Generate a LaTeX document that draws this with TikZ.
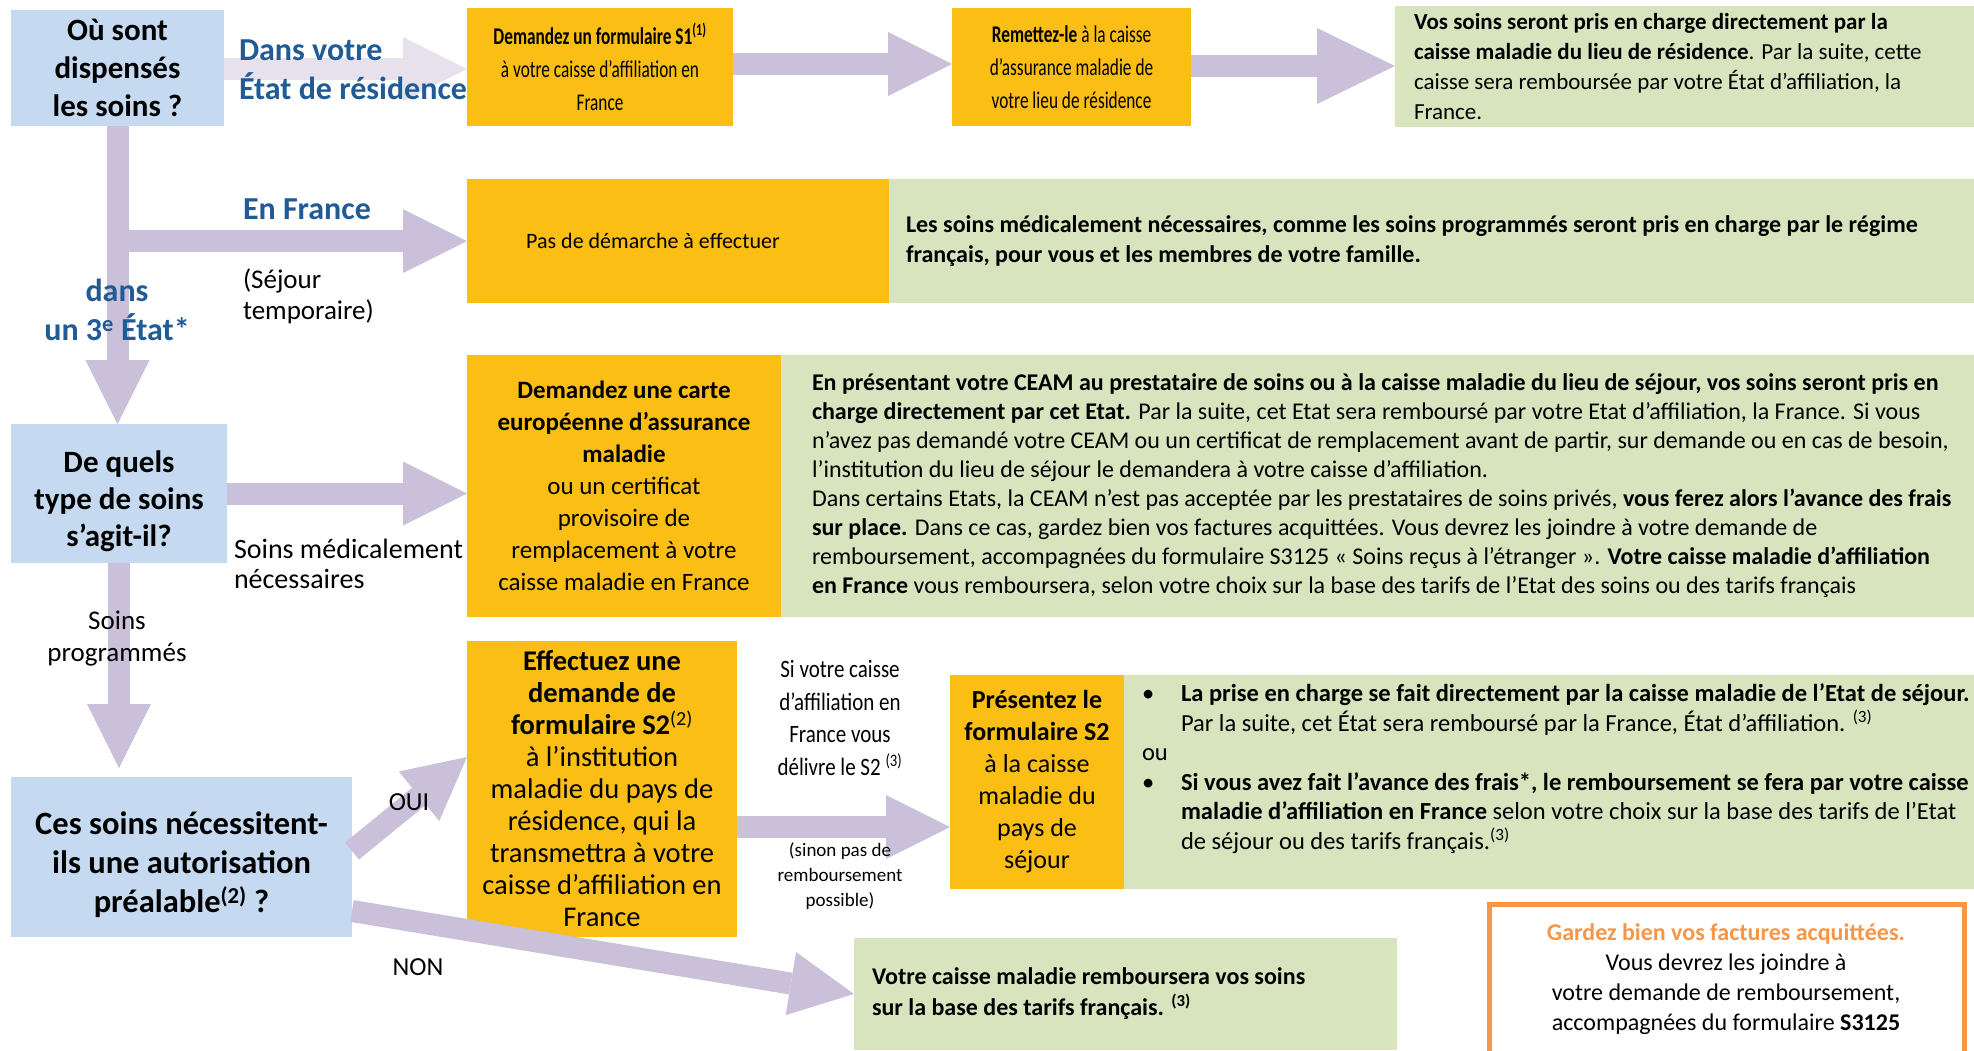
\documentclass[tikz,border=0pt]{standalone}
\usepackage{fontspec}
\setmainfont{Carlito}
\newfontfamily\condA[FakeStretch=0.72]{Carlito}
\newfontfamily\condB[FakeStretch=0.84]{Carlito}
\usetikzlibrary{arrows.meta,calc}
\definecolor{bluebox}{RGB}{197,217,240}
\definecolor{orangebox}{RGB}{250,190,20}
\definecolor{greenbox}{RGB}{215,228,189}
\definecolor{lav}{RGB}{202,192,218}
\definecolor{lavlight}{RGB}{231,224,237}
\definecolor{bluetxt}{RGB}{32,91,150}
\definecolor{orngtxt}{RGB}{247,150,70}
\newcommand{\fsz}[2]{\fontsize{#1}{#2}\selectfont}
\begin{document}
\begin{tikzpicture}[x=1pt,y=-1pt,
  every node/.style={inner sep=0pt,outer sep=0pt},
  boxbase/.style={anchor=north west,align=center},
  bluenode/.style={boxbase,fill=bluebox},
  orangenode/.style={boxbase,fill=orangebox},
  greennode/.style={boxbase,fill=greenbox,align=flush left},
  lbl/.style={align=center},
  blockarrow/.style={draw=lav,line width=22pt,-{Triangle[length=64pt,width=64pt,line width=0pt]}},
  lightarrow/.style={draw=lavlight,line width=22pt,-{Triangle[length=64pt,width=64pt,line width=0pt]}},
]
\useasboundingbox (0,0) rectangle (1974,1050);
\clip (0,0) rectangle (1974,1050);

% ---------- boxes ----------
\node[bluenode,minimum width=213pt,minimum height=116pt,font=\fsz{31}{38}\bfseries] (b1) at (11,10)
  {Où sont\\ dispensés\\ les soins ?};
\node[orangenode,minimum width=266pt,minimum height=118pt,font=\condA\fsz{24}{33}] (o1) at (467,8)
  {\textbf{Demandez un formulaire S1\textsuperscript{(1)}}\\ à  votre caisse d’affiliation en\\ France};
\node[orangenode,minimum width=239pt,minimum height=118pt,font=\condA\fsz{24}{33}] (o2) at (952,8)
  {\textbf{Remettez-le} à la caisse\\ d’assurance maladie de\\ votre lieu de résidence};
\node[greennode,minimum height=121pt,text width=600pt,inner xsep=19pt,font=\fsz{23}{30}] (g1) at (1395,6)
  {\textbf{Vos soins seront pris en charge directement par la}\\ \textbf{caisse maladie du lieu de résidence}. Par la suite, cette\\ caisse sera remboursée par votre État d’affiliation, la\\ France.};

\node[orangenode,minimum width=422pt,minimum height=124pt,font=\fsz{22}{30}] (f1) at (467,179)
  {Pas de démarche à effectuer\hspace*{50pt}};
\node[greennode,minimum height=124pt,text width=1100pt,inner xsep=17pt,font=\fsz{24}{30}\bfseries] (f2) at (889,179)
  {Les soins médicalement nécessaires, comme les soins programmés seront pris en charge par le régime\\ français,  pour vous et les membres de votre famille.};

\node[bluenode,minimum width=216pt,minimum height=139pt,font=\fsz{31}{37}\bfseries] (b2) at (11,424)
  {\rule{0pt}{8pt}\\[-8pt]De quels\\ type de soins\\ s’agit-il?};
\node[orangenode,minimum width=314pt,minimum height=262pt,font=\fsz{25}{32}] (c1) at (467,355)
  {\textbf{Demandez une carte}\\ \textbf{européenne d’assurance}\\ \textbf{maladie}\\ ou un certificat\\ provisoire de\\ remplacement à  votre\\ caisse maladie en France};
\node[greennode,minimum height=262pt,text width=1220pt,inner xsep=31pt,font=\fsz{24}{29}] (c2) at (781,355)
  {\textbf{En présentant votre CEAM au prestataire de soins ou à la caisse maladie du lieu de séjour, vos soins seront pris en}\\
   \textbf{charge directement par cet Etat.} Par la suite, cet Etat sera remboursé par votre Etat d’affiliation, la France. Si vous\\
   n’avez pas demandé votre CEAM ou un certificat de remplacement avant de partir, sur demande ou en cas de besoin,\\
   l’institution du lieu de séjour le demandera à votre caisse d’affiliation.\\
   Dans certains Etats, la CEAM n’est pas acceptée par les prestataires de soins privés, \textbf{vous ferez alors l’avance des frais}\\
   \textbf{sur place.} Dans ce cas, gardez bien vos factures acquittées. Vous devrez les joindre à votre demande de\\
   remboursement, accompagnées du formulaire S3125 « Soins reçus à l’étranger ». \textbf{Votre caisse maladie  d’affiliation}\\
   \textbf{en France} vous remboursera, selon votre choix sur la base des tarifs de l’Etat des soins ou des tarifs français};

\node[bluenode,minimum width=341pt,minimum height=160pt,font=\fsz{32.5}{39}\bfseries] (b3) at (11,777)
  {\rule{0pt}{10pt}\\[-10pt]Ces soins nécessitent-\\ ils une autorisation\\ préalable\textsuperscript{(2)} ?};
\node[orangenode,minimum width=270pt,minimum height=296pt,font=\fsz{28.5}{32}] (d1) at (467,641)
  {\textbf{Effectuez une}\\ \textbf{demande de}\\ \textbf{formulaire S2}\textsuperscript{(2)}\\ à l’institution\\ maladie du pays de\\ résidence, qui la\\ transmettra à votre\\ caisse d’affiliation en\\ France};
\node[orangenode,minimum width=174pt,minimum height=214pt,font=\fsz{26}{32}] (d2) at (950,675)
  {\textbf{Présentez le}\\ \textbf{formulaire S2}\\ à  la caisse\\ maladie du\\ pays de\\ séjour};
\node[greennode,minimum width=850pt,minimum height=214pt] (d3) at (1124,675) {};
\node[anchor=north west,align=flush left,text width=880pt,font=\fsz{24.5}{29.5}] (d3t) at (1142,684)
  {\makebox[39pt][l]{•}\textbf{La prise en charge se fait directement par la caisse maladie de l’Etat de séjour.}\\
   \hspace*{39pt}Par la suite, cet État sera remboursé par la France, État d’affiliation. \textsuperscript{(3)}\\
   ou\\
   \makebox[39pt][l]{•}\textbf{Si vous avez fait l’avance des frais*, le remboursement se fera par votre caisse}\\
   \hspace*{39pt}\textbf{maladie d’affiliation en France} selon votre choix sur la base des tarifs de l’Etat\\
   \hspace*{39pt}de séjour ou des tarifs français.\textsuperscript{(3)}};
\node[greennode,minimum height=112pt,text width=507pt,inner xsep=18pt,font=\fsz{24}{31}\bfseries] (e1) at (854,938)
  {Votre caisse maladie remboursera vos soins\\ sur la base des tarifs français. \textsuperscript{(3)}};
\node[boxbase,draw=orngtxt,line width=5pt,fill=white,minimum width=475pt,minimum height=170pt] (k1) at (1489,904) {};
\node[lbl,anchor=north,font=\fsz{24}{30}] (k2) at (1726,924)
  {\textcolor{orngtxt}{\textbf{Gardez bien vos factures acquittées.}}\\ Vous devrez les joindre à\\ votre demande de remboursement,\\ accompagnées du formulaire \textbf{S3125}};

% ---------- connectors ----------
\draw[lightarrow] (b1.east |- 0,69) -- (o1.west |- 0,69);
\draw[blockarrow] (o1.east |- 0,64) -- (o2.west |- 0,64);
\draw[draw=lav,line width=22pt,-{Triangle[length=78pt,width=76pt,line width=0pt]}] (o2.east |- 0,66) -- (g1.west |- 0,66);
\draw[blockarrow] (b1.south) -- (b1.south |- b2.north);
\coordinate (br) at (b1.south |- f1.west);
\draw[blockarrow] ([xshift=-11pt]br) -- (f1.west);
\draw[blockarrow] (b2.east) -- (b2.east -| c1.west);
\draw[blockarrow,shorten >=9pt] (b2.south) -- (b2.south |- b3.north);
\draw[blockarrow,-{Triangle[length=62pt,width=64pt,line width=0pt]}] (b3.east |- 0,851) -- (d1.west |- 0,757);
\draw[blockarrow] (b3.east |- 0,911) -- (e1.west);
\draw[blockarrow] (d1.east |- 0,827) -- (d2.west |- 0,827);

% ---------- labels ----------
\node[anchor=west,align=left,text=bluetxt,font=\fsz{32}{39}\bfseries] (l1) at (239,70) {Dans votre\\ État de résidence};
\node[anchor=west,text=bluetxt,font=\fsz{32}{39}\bfseries] (l2) at (243,209) {En France};
\node[anchor=west,align=left,font=\fsz{27}{31}] (l3) at (243,296) {(Séjour\\ temporaire)};
\node[lbl,text=bluetxt,font=\fsz{32}{39}\bfseries] (l4) at (117,310) {dans\\ un 3\textsuperscript{e} État*};
\node[anchor=west,align=left,font=\fsz{28}{30}] (l5) at (234,564) {Soins médicalement\\ nécessaires};
\node[lbl,font=\fsz{27}{32}] (l6) at (117,639) {Soins\\ programmés};
\node[lbl,font=\fsz{26}{30}] (l7) at (409,802) {OUI};
\node[lbl,font=\fsz{26}{30}] (l8) at (418,967) {NON};
\node[lbl,font=\condB\fsz{25}{32.5}] (l9) at (840,718) {Si votre caisse\\ d’affiliation en\\ France vous\\ délivre le S2 \textsuperscript{(3)}};
\node[lbl,font=\fsz{19}{25}] (l10) at (840,876) {(sinon pas de\\ remboursement\\ possible)};
\end{tikzpicture}
\end{document}
